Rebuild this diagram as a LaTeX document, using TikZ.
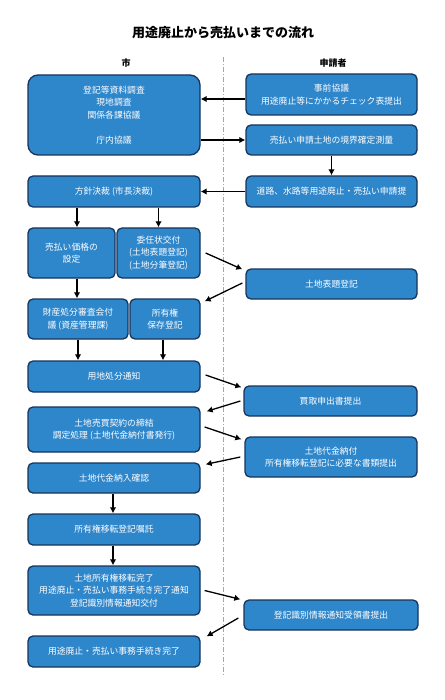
\documentclass[tikz,border=0pt]{standalone}
\usepackage{fontspec}
\setmainfont{Noto Sans CJK JP}
\usepackage{tikz}
\usetikzlibrary{arrows.meta}
\definecolor{boxblue}{RGB}{46,134,203}
\definecolor{boxline}{RGB}{23,52,92}
\definecolor{sepgray}{RGB}{165,165,165}
\tikzset{
  flowbox/.style={draw=boxline, fill=boxblue, line width=1.3pt, rounded corners=5pt,
    text=white, align=center, inner sep=0pt, font=\fontsize{8.8}{12.5}\selectfont},
  arr/.style={line width=1.3pt, -{Latex[length=6pt,width=6.5pt]}}
}
\begin{document}
\begin{tikzpicture}[x=1pt,y=-1pt]
\useasboundingbox (0,0) rectangle (444,700);
\node (title) at (223,33) {\fontsize{13}{15}\selectfont\bfseries 用途廃止から売払いまでの流れ};
\node (city) at (126,63) {\fontsize{9}{11}\selectfont\bfseries 市};
\node (appl) at (333,63) {\fontsize{9}{11}\selectfont\bfseries 申請者};
\coordinate (septop) at (223,57);
\coordinate (sepbot) at (223,677);
\draw[sepgray, line width=0.9pt, dash pattern=on 5pt off 2pt on 1pt off 2pt] (septop) -- (sepbot);

% left column
\node[flowbox, rounded corners=10pt, minimum width=172pt, minimum height=80pt] (survey) at (114,115)
  {登記等資料調査\\現地調査\\関係各課協議\\\\庁内協議};
\node[flowbox, minimum width=172pt, minimum height=31pt] (policy) at (114,191.5) {方針決裁 (市長決裁)};
\node[flowbox, minimum width=87pt, minimum height=50pt] (price) at (71.5,253) {売払い価格の\\設定};
\node[flowbox, minimum width=83pt, minimum height=50pt] (proxy) at (158.5,253) {委任状交付\\(土地表題登記)\\(土地分筆登記)};
\node[flowbox, minimum width=100pt, minimum height=40pt] (council) at (78,319) {財産処分審査会付\\議 (資産管理課)};
\node[flowbox, minimum width=70pt, minimum height=40pt] (keep) at (165,319) {所有権\\保存登記};
\node[flowbox, minimum width=172pt, minimum height=31pt] (notice) at (114,376.5) {用地処分通知};
\node[flowbox, minimum width=172pt, minimum height=45pt] (contract) at (114,429.5) {土地売買契約の締結\\調定処理 (土地代金納付書発行)};
\node[flowbox, minimum width=172pt, minimum height=30pt] (check) at (114,478) {土地代金納入確認};
\node[flowbox, minimum width=172pt, minimum height=31pt] (entrust) at (114,529.5) {所有権移転登記嘱託};
\node[flowbox, minimum width=172pt, minimum height=49pt] (transfer) at (114,590.5) {土地所有権移転完了\\用途廃止・売払い事務手続き完了通知\\登記識別情報通知交付};
\node[flowbox, minimum width=172pt, minimum height=31pt] (done) at (114,651.5) {用途廃止・売払い事務手続き完了};

% right column
\node[flowbox, minimum width=171pt, minimum height=41pt] (prior) at (331.5,94.5) {事前協議\\用途廃止等にかかるチェック表提出};
\node[flowbox, minimum width=171pt, minimum height=30pt] (measure) at (331.5,140) {売払い申請土地の境界確定測量};
\node[flowbox, minimum width=171pt, minimum height=31pt] (apply) at (331.5,191.5) {道路、水路等用途廃止・売払い申請提};
\node[flowbox, minimum width=171pt, minimum height=30pt] (title reg) at (331.5,284) {土地表題登記};
\node[flowbox, minimum width=173pt, minimum height=30pt] (offer) at (330.5,401) {買取申出書提出};
\node[flowbox, minimum width=172pt, minimum height=40pt] (payment) at (331,457) {土地代金納付\\所有権移転登記に必要な書類提出};
\node[flowbox, minimum width=174pt, minimum height=30pt] (receipt) at (331,615) {登記識別情報通知受領書提出};

% arrows
\draw[arr] ([yshift=-4.5pt]prior.west) -- ([yshift=-4.5pt]prior.west -| survey.east);
\draw[arr] (survey.east |- measure.west) -- (measure.west);
\draw[arr] (measure.south) -- (apply.north);
\draw[arr] (apply.west) -- (policy.east);
\draw[arr] ([xshift=5.5pt]price.north |- policy.south) -- ([xshift=5.5pt]price.north);
\draw[arr] (proxy.north |- policy.south) -- (proxy.north);
\draw[arr] ([xshift=5pt]proxy.east) -- ([xshift=-3pt,yshift=-1pt]title reg.north west);
\draw[arr] ([xshift=-3pt,yshift=1pt]title reg.west) -- ([shift={(4pt,-3pt)}]keep.north east);
\draw[arr] ([xshift=-1pt]council.north |- price.south) -- ([xshift=-1pt]council.north);
\draw[arr] (council.south) -- (council.south |- notice.north);
\draw[arr] ([xshift=-2pt]keep.south) -- ([xshift=-2pt]keep.south |- notice.north);
\draw[arr] ([xshift=5pt,yshift=1.5pt]notice.east) -- ([shift={(-2pt,-2pt)}]offer.north west);
\draw[arr] ([xshift=-3pt]offer.west) -- ([shift={(6pt,-5pt)}]contract.north east);
\draw[arr] ([xshift=4pt,yshift=2.5pt]contract.east) -- ([shift={(-3pt,-3pt)}]payment.north west);
\draw[arr] ([xshift=-4pt]payment.west) -- ([shift={(5pt,-2pt)}]check.north east);
\draw[arr] ([xshift=-1pt]check.south) -- ([xshift=-1pt]entrust.north);
\draw[arr] ([xshift=-1pt]entrust.south) -- ([xshift=-1pt]transfer.north);
\draw[arr] ([xshift=4pt]transfer.east) -- ([xshift=-3pt]receipt.north west);
\draw[arr] ([xshift=-5pt,yshift=-3pt]receipt.west) -- ([shift={(6pt,-1pt)}]done.north east);
\end{tikzpicture}
\end{document}
